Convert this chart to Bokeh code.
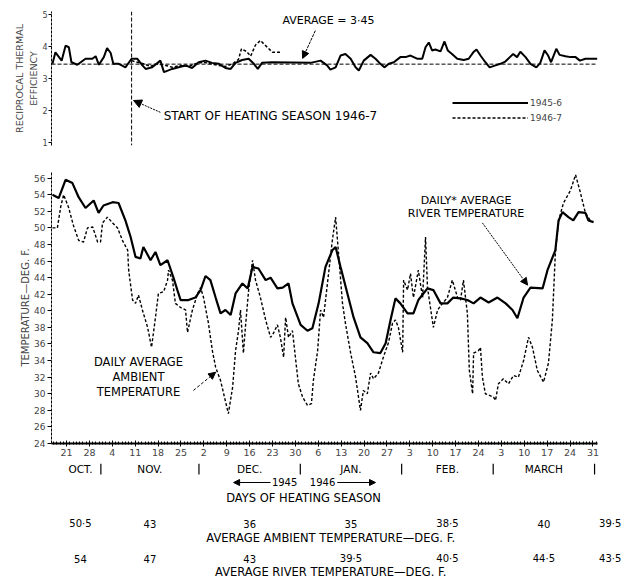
import math
from bokeh.plotting import figure
from bokeh.layouts import column
from bokeh.models import (Range1d, FixedTicker, Span, Label, Arrow, NormalHead,
                          Legend, LegendItem, LinearAxis)
from bokeh.core.properties import value
from bokeh.embed import file_html
from bokeh.resources import INLINE

# ---------------- data (x = days counted from 21 Oct 1945) ----------------
river_day = [-4.3, -2.4, -0.3, 1.8, 3.7, 5.8, 8.3, 9.8, 11.3, 14.1, 15.9, 18.0, 19.6, 21.1, 22.6,
             23.5, 25.7, 27.2, 28.7, 30.9, 32.7, 33.9, 34.9, 37.3, 39.4, 41.0, 42.5, 44.0, 45.6,
             47.1, 48.6, 50.2, 51.7, 53.8, 55.4, 56.9, 58.7, 60.9, 62.4, 64.5, 66.1, 67.9, 69.1,
             71.6, 73.7, 75.2, 77.1, 79.2, 81.3, 82.3, 83.8, 85.9, 87.8, 89.9, 92.0, 93.9, 96.0,
             97.6, 99.1, 100.6, 102.1, 104.3, 106.1, 107.6, 110.4, 112.2, 114.4, 116.5, 118.3,
             120.5, 122.6, 124.5, 126.6, 129.1, 131.8, 134.3, 136.4, 137.9, 139.8, 141.9, 145.6,
             147.1, 149.5, 150.5, 151.7, 153.5, 155.0, 156.6, 158.7, 159.6, 161.2]
river_temp = [54.0, 53.6, 55.8, 55.4, 53.7, 52.4, 53.3, 51.8, 52.7, 53.1, 53.0, 50.9, 48.9, 46.5,
              46.3, 47.7, 46.1, 47.1, 45.5, 46.1, 44.0, 42.5, 41.3, 41.3, 41.6, 42.5, 44.2, 43.7,
              41.6, 39.7, 40.1, 39.5, 42.1, 43.3, 42.7, 45.3, 45.1, 43.7, 44.0, 42.7, 42.8, 43.3,
              40.9, 38.3, 37.6, 37.9, 40.9, 45.3, 47.3, 47.7, 45.3, 42.1, 39.2, 36.8, 36.1, 35.0,
              34.9, 36.1, 38.9, 41.5, 40.9, 39.7, 39.7, 41.3, 42.7, 42.5, 40.9, 40.9, 41.6, 41.5,
              41.3, 40.9, 41.6, 41.0, 41.6, 40.9, 40.1, 39.1, 41.6, 42.8, 42.7, 44.9, 47.3, 50.9,
              51.9, 51.3, 50.9, 51.9, 51.8, 50.9, 50.7]

ambient_day = [-4.3, -2.8, -1.8, -0.9, 0.6, 2.1, 3.7, 5.2, 6.4, 8.0,
               9.5, 10.4, 11.0, 12.5, 14.1, 15.6, 17.1, 18.7, 19.0, 20.2,
               21.1, 22.0, 23.2, 24.8, 26.0, 27.2, 28.1, 29.7, 30.9, 31.2,
               32.4, 33.3, 34.9, 36.4, 37.0, 38.5, 40.1, 41.0, 41.9, 43.4,
               44.6, 45.6, 47.1, 48.3, 49.5, 50.8, 51.7, 52.6, 53.2, 54.1,
               54.7, 55.7, 56.9, 57.8, 59.3, 60.9, 62.4, 63.3, 64.5, 65.4,
               66.4, 67.0, 67.9, 69.1, 70.0, 70.9, 72.2, 73.7, 74.9, 75.5,
               76.8, 77.7, 78.6, 79.8, 81.3, 82.3, 83.2, 84.4, 85.3, 86.9,
               88.4, 89.9, 90.8, 92.0, 93.0, 93.9, 95.4, 96.9, 98.5, 99.7,
               100.6, 101.5, 102.8, 103.1, 104.3, 105.2, 106.1, 107.6, 108.9, 109.8,
               110.4, 111.3, 112.2, 113.5, 115.0, 116.5, 118.0, 119.6, 120.5, 121.4,
               122.6, 123.2, 124.2, 124.5, 126.0, 126.6, 127.2, 128.1, 130.6, 131.2,
               132.1, 133.6, 135.2, 136.7, 138.2, 139.8, 141.3, 142.5, 144.0, 145.9,
               147.4, 148.6, 149.5, 150.5, 152.0, 154.1, 155.7, 157.2, 158.7, 160.2]
ambient_temp = [50.0, 50.0, 52.5, 54.0, 52.5, 50.3, 48.5, 48.3, 50.0, 50.1,
                48.3, 48.3, 50.6, 51.3, 50.6, 50.0, 48.5, 47.3, 44.9, 41.3,
                40.9, 41.9, 40.1, 38.0, 35.6, 39.2, 42.1, 42.3, 43.7, 44.9,
                43.7, 40.9, 40.4, 40.1, 37.4, 40.1, 42.1, 42.8, 41.6, 38.5,
                35.2, 33.2, 31.6, 29.6, 27.6, 30.8, 35.2, 37.6, 40.1, 34.9,
                38.0, 42.5, 46.1, 43.7, 41.6, 38.9, 36.8, 37.3, 38.3, 36.8,
                34.4, 39.2, 36.8, 37.6, 34.4, 31.2, 29.6, 28.6, 28.8, 31.6,
                35.2, 40.1, 39.2, 43.3, 48.5, 51.3, 46.9, 40.9, 38.5, 34.9,
                32.0, 28.0, 30.4, 30.0, 32.5, 31.8, 32.5, 34.4, 36.2, 38.5,
                38.9, 38.0, 35.0, 43.7, 42.5, 44.5, 41.6, 44.9, 41.6, 48.9,
                42.8, 40.4, 38.0, 40.1, 40.9, 41.6, 43.7, 41.6, 41.3, 43.7,
                39.7, 32.8, 30.0, 34.9, 35.2, 35.6, 32.0, 30.0, 29.6, 29.2,
                31.2, 31.8, 31.2, 32.2, 32.0, 34.0, 36.8, 35.6, 32.8, 31.4,
                33.7, 38.9, 46.9, 50.9, 53.0, 54.5, 56.4, 54.2, 51.8, 50.9]

eff_1945_day = [-4.3, -3.4, -2.3, -1.5, -0.3, 0.7, 1.5, 3.3, 5.8, 7.9,
                8.9, 9.9, 11.4, 12.4, 13.5, 14.3, 16.0, 18.0, 19.9, 21.6,
                23.2, 24.2, 26.2, 28.7, 29.8, 32.3, 34.3, 36.4, 38.4, 40.4,
                42.5, 44.5, 46.6, 48.6, 50.2, 51.7, 53.7, 55.7, 57.3, 58.5,
                59.8, 62.9, 68.5, 74.6, 77.7, 79.7, 80.7, 82.3, 83.8, 85.3,
                86.9, 88.4, 89.4, 90.9, 93.0, 94.5, 96.0, 97.2, 98.6, 100.1,
                102.1, 103.7, 105.2, 107.2, 108.8, 109.8, 110.8, 111.8, 112.8, 114.4,
                115.6, 116.6, 117.9, 119.5, 121.5, 123.0, 124.4, 125.4, 126.6, 128.1,
                129.4, 131.2, 132.7, 134.2, 135.6, 136.6, 137.8, 138.8, 140.4, 141.9,
                143.7, 144.9, 146.2, 147.3, 148.2, 149.8, 150.8, 152.6, 154.1, 155.7,
                157.0, 158.7, 162.3]
eff_1945 = [3.46, 3.82, 3.67, 3.56, 4.03, 3.98, 3.51, 3.43, 3.62, 3.62,
            3.70, 3.43, 3.67, 3.95, 3.80, 3.46, 3.46, 3.35, 3.62, 3.62,
            3.41, 3.30, 3.35, 3.56, 3.20, 3.30, 3.35, 3.41, 3.33, 3.51,
            3.56, 3.49, 3.46, 3.33, 3.30, 3.49, 3.58, 3.62, 3.46, 3.30,
            3.49, 3.51, 3.50, 3.49, 3.56, 3.41, 3.28, 3.35, 3.72, 3.77,
            3.62, 3.35, 3.25, 3.56, 3.74, 3.62, 3.46, 3.35, 3.46, 3.51,
            3.67, 3.67, 3.72, 3.62, 3.62, 3.98, 4.13, 3.88, 3.91, 3.85,
            4.16, 3.88, 3.77, 3.62, 3.58, 3.62, 3.82, 3.91, 3.72, 3.51,
            3.35, 3.41, 3.46, 3.53, 3.67, 3.77, 3.67, 3.84, 3.67, 3.46,
            3.35, 3.49, 3.88, 3.72, 3.51, 3.93, 3.74, 3.70, 3.67, 3.67,
            3.56, 3.62, 3.62]

eff_1946_day = [19.9, 21.7, 23.5, 25.7, 27.8, 30.3, 32.4, 34.9, 37.3, 39.4, 41.9, 44.0,
                46.5, 48.6, 50.8, 52.6, 53.5, 55.0, 56.3, 57.8, 59.3, 61.2, 63.0, 65.4]
eff_1946 = [3.56, 3.51, 3.46, 3.38, 3.46, 3.41, 3.35, 3.41, 3.38, 3.46, 3.51, 3.46,
            3.41, 3.38, 3.46, 3.60, 3.93, 3.85, 3.70, 4.05, 4.19, 4.00, 3.82, 3.82]

average_eff = 3.45
start_1946_day = 19.9

tick_days = list(range(0, 162, 7))
tick_labels = ["21", "28", "4", "11", "18", "25", "2", "9", "16", "23", "30", "6", "13",
               "20", "27", "3", "10", "17", "24", "3", "10", "17", "24", "31"]
month_names = ["OCT.", "NOV.", "DEC.", "JAN.", "FEB.", "MARCH"]
month_bounds = [-4.6, 10.5, 40.5, 71.5, 102.5, 130.5, 161.5]
ambient_avg = ["50·5", "43", "36", "35", "38·5", "40", "39·5"]
river_avg = ["54", "47", "43", "39·5", "40·5", "44·5", "43·5"]

# ---------------- layout ----------------
FONT = "DejaVu Sans"
W = 628
BL, BR = 51, 2                   # frame from x=51 to x=626 (axis itself ends at day 162.4)
X0, X_END = -4.6, 162.4          # extent of the season axis
PXD = 546 / (X_END - X0)         # px per day
X1 = X0 + (W - BL - BR) / PXD    # frame right edge, in days
txt = dict(text_font=FONT, text_color="black")
head = dict(fill_color="black", line_color="black")

xr = Range1d(X0, X1)

# ---- upper panel ----
p_top = figure(width=W, height=160, x_range=xr, y_range=Range1d(0.9, 5.1),
               output_backend="svg", toolbar_location=None, x_axis_location=None,
               min_border_left=BL, min_border_right=BR, min_border_top=11, min_border_bottom=15)
p_top.outline_line_color = None
p_top.grid.visible = False
ya = p_top.yaxis[0]
ya.ticker = FixedTicker(ticks=[1, 2, 3, 4, 5], minor_ticks=[])
ya.major_tick_in = 0
ya.major_tick_out = 3
ya.major_label_standoff = 1
ya.major_label_text_font = FONT
ya.major_label_text_font_size = "8px"
ya.axis_line_dash = "3 1"
ya.axis_label = "EFFICIENCY"
ya.axis_label_text_font = FONT
ya.axis_label_text_font_style = "normal"
ya.axis_label_text_font_size = "9.5px"
ya.axis_label_standoff = 0

ya2 = LinearAxis(ticker=FixedTicker(ticks=[]), axis_line_color=None,
                 major_tick_line_color=None, minor_tick_line_color=None,
                 major_label_text_font_size="0px", axis_label="RECIPROCAL THERMAL",
                 axis_label_text_font=FONT, axis_label_text_font_style="normal",
                 axis_label_text_font_size="9.5px", axis_label_standoff=1)
p_top.add_layout(ya2, "left")
# blank outer spacer so the two title lines sit where the original has them
ya3 = LinearAxis(ticker=FixedTicker(ticks=[]), axis_line_color=None,
                 major_tick_line_color=None, minor_tick_line_color=None,
                 major_label_text_font_size="0px", axis_label=" ",
                 axis_label_text_font_size="5px", axis_label_standoff=1)
p_top.add_layout(ya3, "left")

p_top.line([X0, X_END], [average_eff, average_eff], line_color="black",
           line_width=1, line_dash="4 2")
p_top.add_layout(Span(location=start_1946_day, dimension="height", line_color="black",
                      line_width=1, line_dash="4 2"))

r45 = p_top.line(eff_1945_day, eff_1945, line_color="black", line_width=2)
r46 = p_top.line(eff_1946_day, eff_1946, line_color="black", line_width=1.5, line_dash="3 2")

legend = Legend(items=[LegendItem(label="1945-6", renderers=[r45]),
                       LegendItem(label="1946-7", renderers=[r46])],
                location=(401, 20), glyph_width=76, glyph_height=15, spacing=0,
                padding=0, margin=0, label_standoff=2, label_text_font=FONT,
                label_text_font_size="9px", border_line_color=None,
                background_fill_alpha=0, label_height=15)
p_top.add_layout(legend)

p_top.add_layout(Label(x=80.1, y=4.81, text="AVERAGE = 3·45", text_align="center",
                       text_baseline="middle", text_font_size="11px", **txt))
p_top.add_layout(Arrow(x_start=76.1, y_start=4.5, x_end=72.2, y_end=3.63,
                       line_width=1, line_dash="3 1", end=NormalHead(size=7, **head)))
p_top.add_layout(Label(x=29.7, y=1.84, text="START OF HEATING SEASON 1946-7",
                       text_align="left", text_baseline="middle", text_font_size="12px", **txt))
p_top.add_layout(Arrow(x_start=28.7, y_start=1.94, x_end=20.5, y_end=2.31,
                       line_width=1, line_dash="2 1", end=NormalHead(size=8, **head)))

# ---- lower panel ----
p_bot = figure(width=W, height=303, x_range=xr, y_range=Range1d(24, 56.8),
               output_backend="svg", toolbar_location=None,
               min_border_left=BL, min_border_right=BR, min_border_top=11, min_border_bottom=20)
p_bot.outline_line_color = None
p_bot.grid.visible = False

xa = p_bot.xaxis[0]
xa.bounds = (X0, X_END)
xa.ticker = FixedTicker(ticks=tick_days, minor_ticks=list(range(-4, 163)))
xa.major_label_overrides = {d: l for d, l in zip(tick_days, tick_labels)}
xa.axis_line_width = 1.8
xa.major_tick_in = 3
xa.major_tick_out = 3
xa.minor_tick_in = 2
xa.minor_tick_out = 1
xa.major_label_standoff = 2
xa.major_label_text_font = FONT
xa.major_label_text_font_size = "9.5px"

yb = p_bot.yaxis[0]
yb.ticker = FixedTicker(ticks=list(range(24, 57, 2)), minor_ticks=[])
yb.major_tick_in = 0
yb.major_tick_out = 4
yb.major_label_standoff = 2
yb.major_label_text_font = FONT
yb.major_label_text_font_size = "9px"
yb.axis_line_dash = "3 1"
yb.axis_label = "TEMPERATURE—DEG. F."
yb.axis_label_text_font = FONT
yb.axis_label_text_font_style = "normal"
yb.axis_label_text_font_size = "10px"
yb.axis_label_standoff = 0

p_bot.line(river_day, river_temp, line_color="black", line_width=2.2)
p_bot.line(ambient_day, ambient_temp, line_color="black", line_width=1.4, line_dash="3 2")

for t, yv in zip(["DAILY AVERAGE", "AMBIENT", "TEMPERATURE"], [33.77, 31.96, 30.27]):
    p_bot.add_layout(Label(x=22.0, y=yv, text=t, text_align="center",
                           text_baseline="middle", text_font_size="11.5px", **txt))
p_bot.add_layout(Arrow(x_start=38.8, y_start=30.4, x_end=45.6, y_end=32.6, line_width=1,
                       line_dash="3 2", end=NormalHead(size=7, **head)))
for t, yv in zip(["DAILY* AVERAGE", "RIVER TEMPERATURE"], [53.31, 51.74]):
    p_bot.add_layout(Label(x=122.2, y=yv, text=t, text_align="center",
                           text_baseline="middle", text_font_size="11px", **txt))
p_bot.add_layout(Arrow(x_start=127.2, y_start=50.6, x_end=141.0, y_end=43.1, line_width=1,
                       line_dash="2 1", end=NormalHead(size=7, **head)))

# ---- strip of captions below the axis (same day scale, frames aligned) ----
H_TXT = 115
p_txt = figure(width=W, height=H_TXT, x_range=xr, y_range=Range1d(H_TXT, 0),
               output_backend="svg", toolbar_location=None,
               x_axis_location=None, y_axis_location=None,
               min_border_left=BL, min_border_right=BR, min_border_top=0, min_border_bottom=0)
p_txt.outline_line_color = None
p_txt.grid.visible = False

sep_x = month_bounds[1:]
p_txt.segment(x0=sep_x, y0=[0] * len(sep_x), x1=sep_x, y1=[11] * len(sep_x),
              line_color="black", line_width=1.2)
month_x = [(month_bounds[i] + month_bounds[i + 1]) / 2 for i in range(len(month_names))]
month_x[0] += 1.3
p_txt.text(x=month_x, y=[5] * len(month_x), text=month_names, text_align="center",
           text_baseline="middle", text_font=value(FONT), text_font_size="10.5px")

p_txt.text(x=[66.7, 78.3], y=[18, 18], text=["1945", "1946"], text_align="center",
           text_baseline="middle", text_font=value(FONT), text_font_size="10px")
p_txt.add_layout(Arrow(x_start=62.4, y_start=19, x_end=51.1, y_end=19,
                       line_width=1, end=NormalHead(size=6, **head)))
p_txt.add_layout(Arrow(x_start=82.8, y_start=19, x_end=94.5, y_end=19,
                       line_width=1, end=NormalHead(size=6, **head)))
p_txt.text(x=[72.5], y=[34], text=["DAYS OF HEATING SEASON"], text_align="center",
           text_baseline="middle", text_font=value(FONT), text_font_size="11.5px")

avg_x = month_x + [166.3]
p_txt.text(x=avg_x, y=[60] * len(avg_x), text=ambient_avg, text_align="center",
           text_baseline="middle", text_font=value(FONT), text_font_size="10px")
p_txt.text(x=[80.8], y=[74], text=["AVERAGE AMBIENT TEMPERATURE—DEG. F."], text_align="center",
           text_baseline="middle", text_font=value(FONT), text_font_size="11.5px")
p_txt.text(x=avg_x, y=[95] * len(avg_x), text=river_avg, text_align="center",
           text_baseline="middle", text_font=value(FONT), text_font_size="10px")
p_txt.text(x=[80.8], y=[108], text=["AVERAGE RIVER TEMPERATURE—DEG. F."], text_align="center",
           text_baseline="middle", text_font=value(FONT), text_font_size="11.5px")

layout = column(p_top, p_bot, p_txt, spacing=0)
open("out.html", "w").write(file_html(layout, INLINE))
